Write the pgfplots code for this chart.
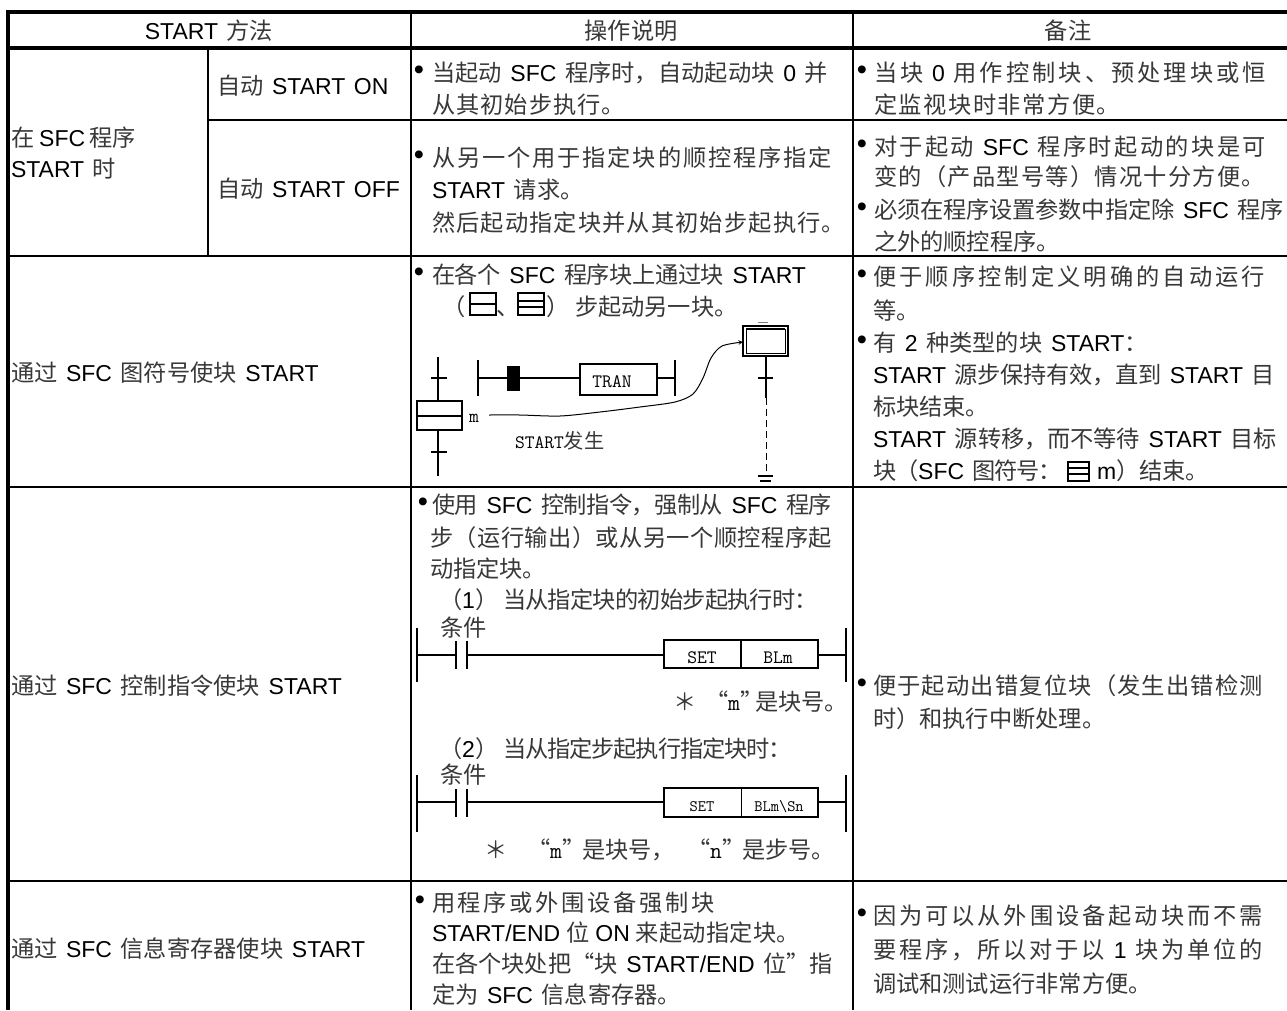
\documentclass[border=0pt]{standalone}
\usepackage{fontspec}
\usepackage{xcolor}
\usepackage{pgfplots}
\pgfplotsset{compat=1.18}
\setmainfont[WordSpace=1.35]{Liberation Sans}
\newfontfamily\cjk[Scale=1.01]{Noto Sans CJK SC}
\definecolor{cjkc}{gray}{0.22}
\makeatletter
\newcount\ccl
\def\setclass#1#2{\ccl=#1\relax\loop\XeTeXcharclass\ccl=1\relax\ifnum\ccl<#2\advance\ccl by 1\repeat}
\setclass{"3000}{"303F}
\setclass{"4E00}{"9FFF}
\setclass{"FF00}{"FFEF}
\setclass{"201C}{"201D}
\XeTeXinterchartoks 1 1={\hskip 0pt plus 1fil minus 1fil\relax}
\makeatother
\newcommand\Z[1]{{\cjk\color{cjkc}\XeTeXinterchartokenstate=1 #1}}
% text helpers: natural-width line, line stretched to an end x, centred line, bullet
\newcommand\N[3]{\node[anchor=base west,inner sep=0pt,outer sep=0pt,font=\fontsize{23}{26}\selectfont] at (axis cs:#1,#2) {#3};}
\newcommand\J[4]{\node[anchor=base west,inner sep=0pt,outer sep=0pt,font=\fontsize{23}{26}\selectfont] at (axis cs:#1,#2) {\makebox[\dimexpr #3pt-#1pt\relax][s]{#4}};}
\newcommand\C[3]{\node[anchor=base,inner sep=0pt,outer sep=0pt,font=\fontsize{23}{26}\selectfont] at (axis cs:#1,#2) {#3};}
\newcommand\B[2]{\node[anchor=base,inner sep=0pt,outer sep=0pt,font=\fontsize{29}{29}\selectfont] at (axis cs:#1,#2-2) {•};}
\newcommand\M[4]{\node[anchor=base,inner sep=0pt,outer sep=0pt,font=\fontsize{#3}{#3}\selectfont\ttfamily] at (axis cs:#1,#2) {#4};}
\newcommand\LL[5]{\addplot[black,no markers,line width=#1pt] coordinates {(#2,#3) (#4,#5)};}
\newcommand\R[5]{\addplot[black,no markers,line width=#1pt] coordinates {(#2,#3) (#4,#3) (#4,#5) (#2,#5) (#2,#3) (#4,#3)};}
\begin{document}
\begin{tikzpicture}
\path[use as bounding box] (0,0) rectangle (1287pt,1010pt);
\begin{axis}[at={(0,0)},anchor=south west,hide axis,scale only axis,width=1287pt,height=1010pt,
  xmin=0,xmax=1287,ymin=0,ymax=1010,y dir=reverse,clip=false]
% table rules
\LL{4}{6}{12}{1287}{12}
\LL{4}{6}{48}{1287}{48}
\LL{2}{208}{119.5}{1287}{119.5}
\LL{2}{8}{255.5}{1287}{255.5}
\LL{2}{8}{487}{1287}{487}
\LL{2}{8}{880.5}{1287}{880.5}
\LL{4}{8}{10}{8}{1010}
\LL{2}{411}{12}{411}{1010}
\LL{2}{853}{12}{853}{1010}
\LL{2}{208}{48}{208}{255.5}
% header
\C{209}{39}{START \Z{方法}}
\C{631}{39}{\Z{操作说明}}
\C{1068}{39}{\Z{备注}}
% left columns
\N{11}{146}{\Z{在}\hspace{5pt}SFC\hspace{4pt}\Z{程序}}
\N{11}{177}{START \Z{时}}
\N{217}{94}{\Z{自动} START ON}
\N{217}{197}{\Z{自动} START OFF}
\N{11}{381}{\Z{通过} SFC \Z{图符号使块} START}
\N{11}{694}{\Z{通过} SFC \Z{控制指令使块} START}
\N{11}{957}{\Z{通过} SFC \Z{信息寄存器使块} START}
% middle column, rows 1-2
\B{419}{81}
\J{432}{81}{828}{\Z{当起动} SFC \Z{程序时，自动起动块} 0 \Z{并}}
\J{432}{113}{625}{\Z{从其初始步执行。}}
\B{419}{166}
\J{432}{166}{832}{\Z{从另一个用于指定块的顺控程序指定}}
\N{432}{198}{START \Z{请求。}}
\J{432}{231}{845}{\Z{然后起动指定块并从其初始步起执行。}}
% right column, rows 1-2
\B{862}{81}
\J{874}{81}{1266}{\Z{当块} 0 \Z{用作控制块、预处理块或恒}}
\J{874}{113}{1120}{\Z{定监视块时非常方便。}}
\B{862}{155}
\J{874}{155}{1266}{\Z{对于起动} SFC \Z{程序时起动的块是可}}
\J{874}{185}{1265}{\Z{变的（产品型号等）情况十分方便。}}
\B{862}{218}
\J{874}{218}{1284}{\Z{必须在程序设置参数中指定除} SFC \Z{程序}}
\N{874}{250}{\Z{之外的顺控程序。}}
% middle column, row 3
\B{419}{283}
\J{432}{283}{806}{\Z{在各个} SFC \Z{程序块上通过块} START}
\N{442}{315}{\Z{（}}
\N{496}{315}{\Z{、}}
\N{546}{315}{\Z{）}}
\N{575}{315}{\Z{步起动另一块。}}
\R{1.5}{470}{293}{496}{315}
\LL{1.5}{470}{304}{496}{304}
\R{1.5}{518}{293}{544}{315}
\LL{1.5}{518}{301}{544}{301}
\LL{1.5}{518}{307}{544}{307}
% SFC diagram
\LL{1.5}{438}{357}{438}{401}
\LL{1.5}{431}{378}{447}{378}
\R{1.5}{417}{401}{462}{430}
\LL{1.5}{417}{416}{462}{416}
\LL{1.5}{438}{430}{438}{476}
\LL{1.5}{431}{452}{447}{452}
\LL{1.5}{478}{360}{478}{396}
\LL{1.5}{478}{378}{580}{378}
\addplot[black,fill=black,no markers] coordinates {(507,366) (519,366) (519,390) (507,390) (507,366)};
\R{2}{580}{364}{657}{395}
\M{612}{387}{19}{TRAN}
\LL{1.5}{657}{378}{675}{378}
\LL{1.5}{675}{360}{675}{396}
\M{474}{422}{19}{m}
\addplot[black,no markers,smooth,line width=1pt,-stealth] coordinates {(489,415) (520,415) (560,416) (600,412) (640,407) (675,402) (693,394) (703,378) (711,358) (722,346) (743,342)};
\N{515}{448}{\ttfamily\fontsize{19}{19}\selectfont START\Z{\fontsize{20}{20}\selectfont 发生}}
\R{2}{743}{326}{788}{356}
\R{1}{746}{329}{785}{353}
\LL{2.5}{746}{329}{785}{329}
\addplot[gray,no markers,line width=0.8pt] coordinates {(758,322) (768,322)};
\LL{1.5}{766}{356}{766}{398}
\LL{1.5}{758}{378}{773}{378}
\addplot[black,no markers,dash pattern=on 7pt off 4pt,line width=1pt] coordinates {(766,398) (766,476)};
\LL{1.5}{758}{476}{773}{476}
\LL{1.5}{760}{481}{771}{481}
% right column, row 3
\B{862}{285}
\J{873}{285}{1265}{\Z{便于顺序控制定义明确的自动运行}}
\N{873}{319}{\Z{等。}}
\B{862}{351}
\N{873}{351}{\Z{有} 2 \Z{种类型的块} START\Z{：}}
\J{873}{383}{1275}{START \Z{源步保持有效，直到} START \Z{目}}
\N{873}{415}{\Z{标块结束。}}
\J{873}{447}{1277}{START \Z{源转移，而不等待} START \Z{目标}}
\J{873}{479}{1062}{\Z{块（}SFC \Z{图符号：}}
\R{1.5}{1068}{462}{1089}{481}
\LL{1.5}{1068}{468}{1089}{468}
\LL{1.5}{1068}{474}{1089}{474}
\N{1097}{479}{m\Z{）结束。}}
% middle column, row 4
\B{423}{513}
\J{432}{513}{832}{\Z{使用} SFC \Z{控制指令，强制从} SFC \Z{程序}}
\J{430}{546}{832}{\Z{步（运行输出）或从另一个顺控程序起}}
\N{430}{577}{\Z{动指定块。}}
\N{439}{608}{\Z{（}1\Z{）}}
\J{503}{608}{818}{\Z{当从指定块的初始步起执行时：}}
\N{440}{636}{\Z{条件}}
\LL{2}{417}{628}{417}{682}
\LL{1.5}{417}{655}{456}{655}
\LL{1.5}{456}{641}{456}{669}
\LL{2.5}{467}{641}{467}{669}
\LL{1.5}{467}{655}{664}{655}
\R{2}{664}{640}{818}{668}
\LL{1.5}{741}{640}{741}{668}
\M{702}{663}{19}{SET}
\M{778}{663}{19}{BLm}
\LL{1.5}{818}{655}{846}{655}
\LL{2}{846}{628}{846}{682}
\C{685}{710}{\Z{＊}}
\N{705}{710}{\Z{“}\ttfamily m\Z{”}}
\N{755}{710}{\Z{是块号。}}
\N{439}{757}{\Z{（}2\Z{）}}
\J{503}{757}{792}{\Z{当从指定步起执行指定块时：}}
\N{440}{783}{\Z{条件}}
\LL{2}{417}{775}{417}{832}
\LL{1.5}{417}{802}{456}{802}
\LL{1.5}{456}{789}{456}{817}
\LL{2.5}{467}{789}{467}{817}
\LL{1.5}{467}{802}{664}{802}
\R{2}{664}{788}{818}{817}
\LL{1}{741}{788}{741}{817}
\M{702}{811}{16}{SET}
\M{779}{811}{16}{BLm\textbackslash Sn}
\LL{1.5}{818}{802}{846}{802}
\LL{2}{846}{775}{846}{832}
\C{496}{858}{\Z{＊}}
\N{527}{858}{\Z{“}\ttfamily m\Z{”}}
\N{582}{858}{\Z{是块号，}}
\N{687}{858}{\Z{“}\ttfamily n\Z{”}}
\N{742}{858}{\Z{是步号。}}
% right column, row 4
\B{862}{694}
\J{873}{694}{1263}{\Z{便于起动出错复位块（发生出错检测}}
\N{873}{727}{\Z{时）和执行中断处理。}}
% row 5
\B{420}{911}
\J{432}{911}{715}{\Z{用程序或外围设备强制块}}
\J{432}{941}{800}{START/END\hspace{6pt}\Z{位}\hspace{6pt}ON\hspace{6pt}\Z{来起动指定块。}}
\J{432}{972}{833}{\Z{在各个块处把“块} START/END \Z{位”指}}
\N{432}{1003}{\Z{定为} SFC \Z{信息寄存器。}}
\B{862}{924}
\J{873}{924}{1263}{\Z{因为可以从外围设备起动块而不需}}
\J{873}{958}{1263}{\Z{要程序，所以对于以} 1 \Z{块为单位的}}
\N{873}{992}{\Z{调试和测试运行非常方便。}}
\end{axis}
\end{tikzpicture}
\end{document}
